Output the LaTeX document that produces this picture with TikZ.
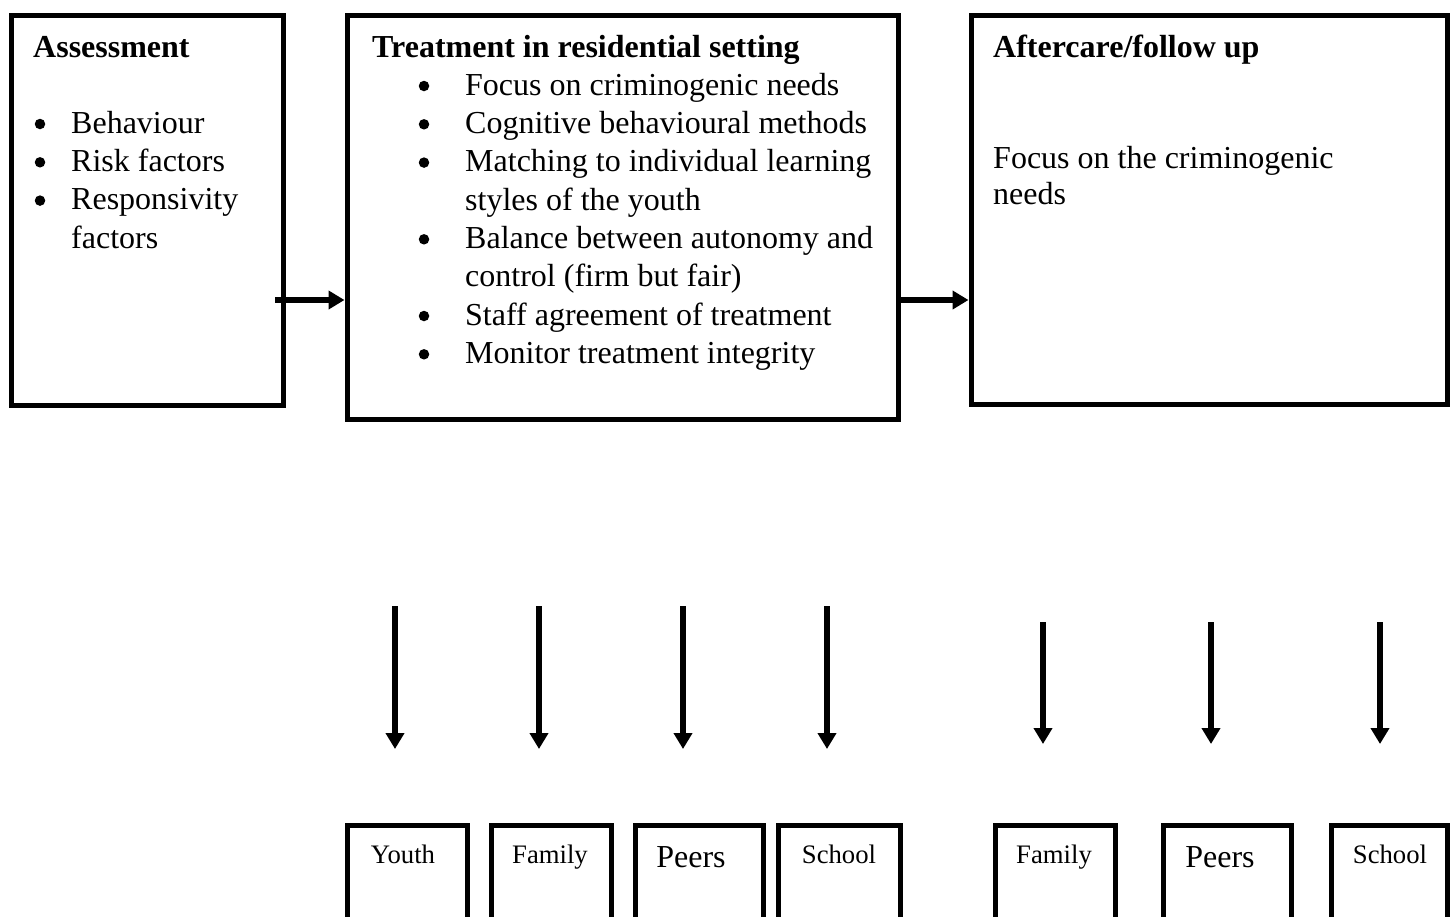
\documentclass[tikz,border=0pt]{standalone}
\usepackage{fontspec}
\setmainfont{Liberation Serif}
\usetikzlibrary{arrows.meta}
\begin{document}
\begin{tikzpicture}[x=1pt,y=-1pt,
  box/.style={draw=black, line width=5pt, rectangle, inner sep=0pt},
  txt/.style={anchor=base west, inner sep=0pt, font=\fontsize{32}{38}\selectfont},
  bul/.style={circle, fill=black, inner sep=0pt, minimum size=10.5pt, yshift=9pt},
  lbl/.style={anchor=base, inner sep=0pt, font=\fontsize{26.7}{32}\selectfont},
  lblbig/.style={anchor=base, inner sep=0pt, font=\fontsize{32}{38}\selectfont},
  arr/.style={line width=5.5pt, -{Triangle[length=16pt,width=18pt]}}
]
\useasboundingbox (0,0) rectangle (1453,916);
\clip (0,0) rectangle (1453,916);

% top boxes
\node[box, minimum width=272pt, minimum height=390pt] (assess) at (147,210) {};
\node[box, minimum width=551pt, minimum height=404pt] (treat) at (622.5,217) {};
\node[box, minimum width=476pt, minimum height=389pt] (after) at (1209,209.5) {};

% Assessment text
\node[txt] (at) at (33,57) {\textbf{Assessment}};
\node[bul] (ab1) at (40,133) {};
\node[txt] (a1) at (71,133) {Behaviour};
\node[bul] (ab2) at (40,171.3) {};
\node[txt] (a2) at (71,171.3) {Risk factors};
\node[bul] (ab3) at (40,209.6) {};
\node[txt] (a3) at (71,209.6) {Responsivity};
\node[txt] (a4) at (71,248) {factors};

% Treatment text
\node[txt] (tt) at (372,57) {\textbf{Treatment in residential setting}};
\node[bul] (tb1) at (424,95) {};
\node[txt] (t1) at (465,95) {Focus on criminogenic needs};
\node[bul] (tb2) at (424,133.3) {};
\node[txt] (t2) at (465,133.3) {Cognitive behavioural methods};
\node[bul] (tb3) at (424,171.6) {};
\node[txt] (t3) at (465,171.6) {Matching to individual learning};
\node[txt] (t4) at (465,210) {styles of the youth};
\node[bul] (tb5) at (424,248.3) {};
\node[txt] (t5) at (465,248.3) {Balance between autonomy and};
\node[txt] (t6) at (465,286.6) {control (firm but fair)};
\node[bul] (tb7) at (424,325) {};
\node[txt] (t7) at (465,325) {Staff agreement of treatment};
\node[bul] (tb8) at (424,363.3) {};
\node[txt] (t8) at (465,363.3) {Monitor treatment integrity};

% Aftercare text
\node[txt] (ft) at (993,57) {\textbf{Aftercare/follow up}};
\node[txt] (f1) at (993,168) {Focus on the criminogenic};
\node[txt] (f2) at (993,204) {needs};

% horizontal arrows
\coordinate (row) at (0,300);
\coordinate (a1s) at (275,300);
\draw[arr] (a1s) -- (a1s -| treat.west);
\draw[arr] (treat.east |- row) -- (after.west |- row);

% bottom boxes
\node[box, minimum width=120pt, minimum height=135pt] (youth) at (407,892.5) {};
\node[box, minimum width=120pt, minimum height=135pt] (family) at (551,892.5) {};
\node[box, minimum width=128pt, minimum height=135pt] (peers) at (699,892.5) {};
\node[box, minimum width=122pt, minimum height=135pt] (school) at (839,892.5) {};
\node[box, minimum width=120pt, minimum height=135pt] (familyb) at (1055,892.5) {};
\node[box, minimum width=128pt, minimum height=135pt] (peersb) at (1227,892.5) {};
\node[box, minimum width=116pt, minimum height=135pt] (schoolb) at (1389,892.5) {};

\node[lbl] (ly) at (403,863) {Youth};
\node[lbl] (lf) at (550,863) {Family};
\node[lblbig] (lp) at (691,867) {Peers};
\node[lbl] (ls) at (839,863) {School};
\node[lbl] (lf2) at (1054,863) {Family};
\node[lblbig] (lp2) at (1220,867) {Peers};
\node[lbl] (ls2) at (1390,863) {School};

% down arrows
\coordinate (d1s) at (395,606); \coordinate (d1e) at (395,749);
\coordinate (d2s) at (539,606); \coordinate (d2e) at (539,749);
\coordinate (d3s) at (683,606); \coordinate (d3e) at (683,749);
\coordinate (d4s) at (827,606); \coordinate (d4e) at (827,749);
\coordinate (d5s) at (1043,622); \coordinate (d5e) at (1043,744);
\coordinate (d6s) at (1211,622); \coordinate (d6e) at (1211,744);
\coordinate (d7s) at (1380,622); \coordinate (d7e) at (1380,744);
\foreach \i in {1,...,7} { \draw[arr] (d\i s) -- (d\i e); }
\end{tikzpicture}
\end{document}
